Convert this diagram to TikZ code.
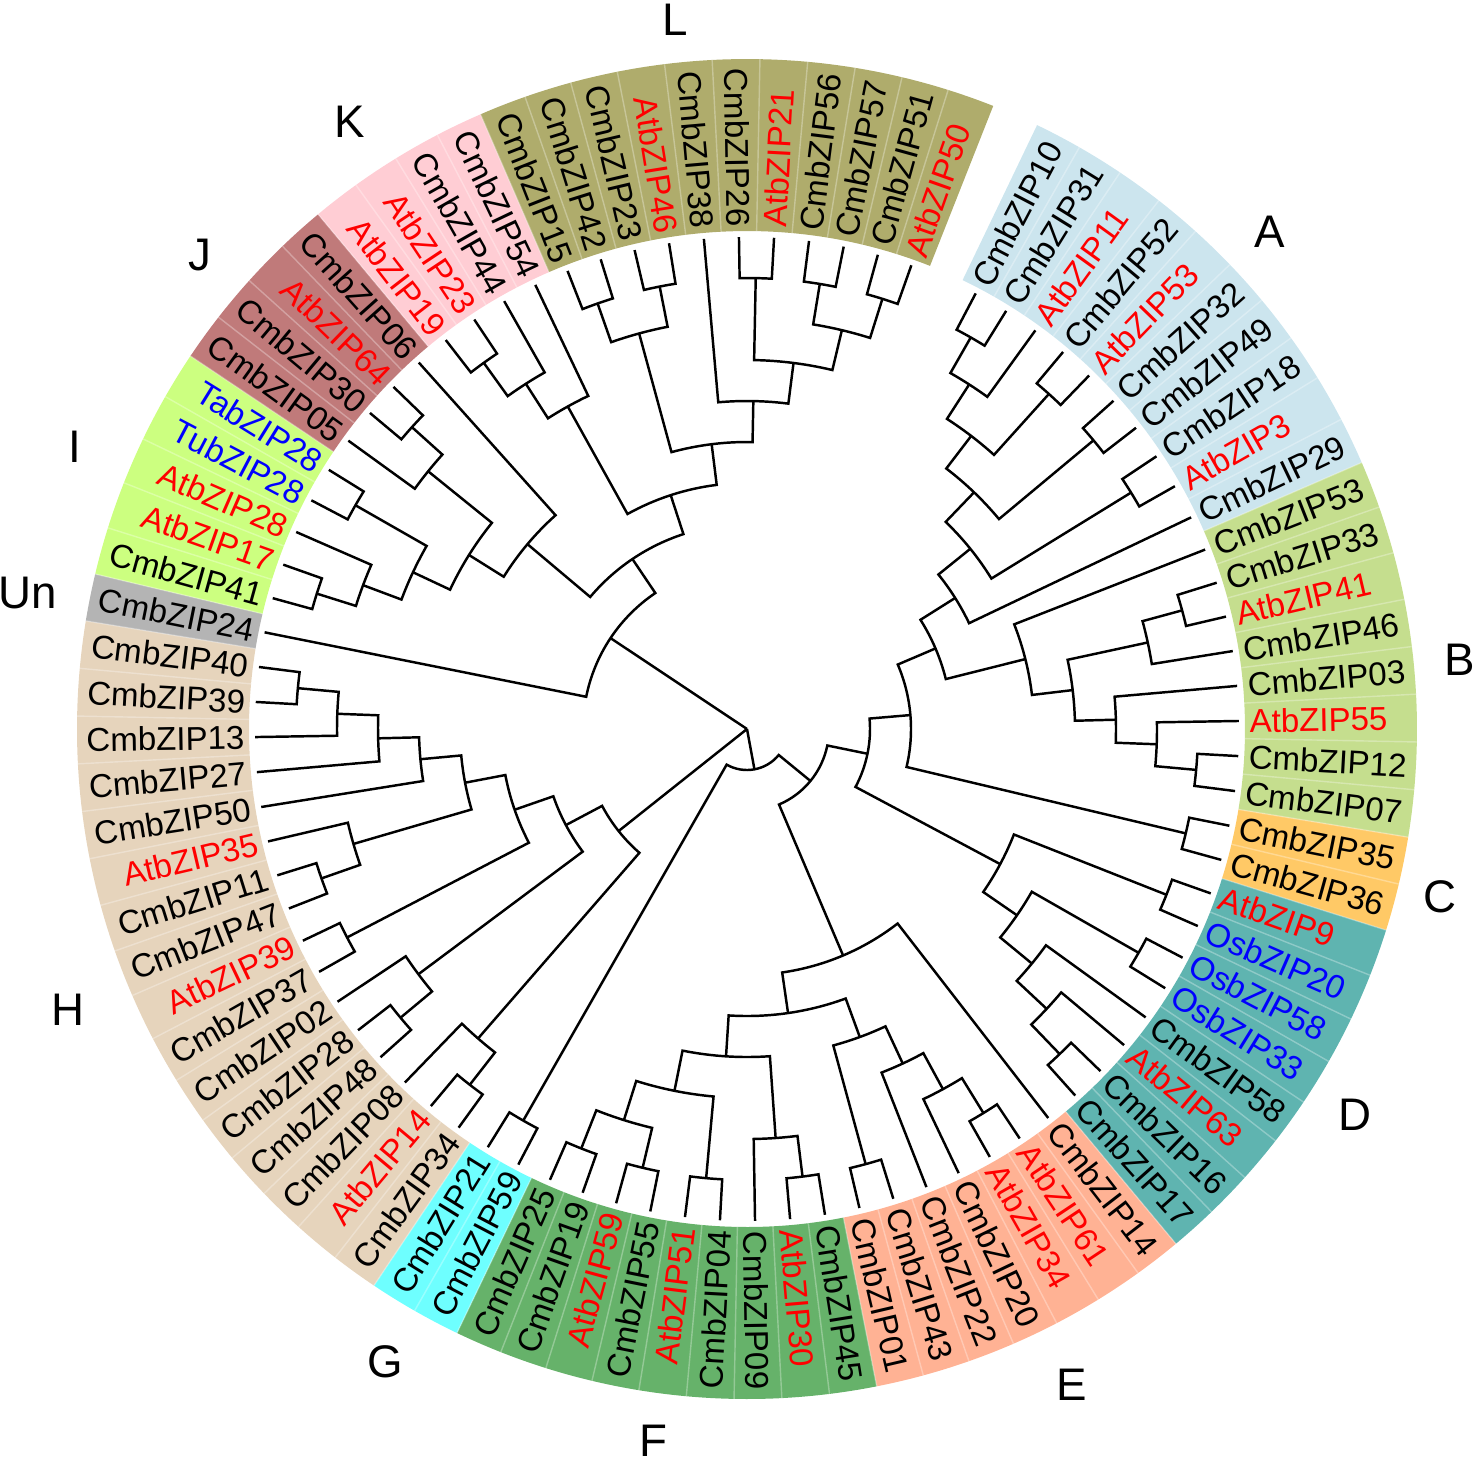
\documentclass[tikz,border=0pt]{standalone}
\usepackage{fontspec}
\setmainfont{Liberation Sans}

\definecolor{bandA}{RGB}{204,229,238}
\definecolor{bandB}{RGB}{197,222,142}
\definecolor{bandC}{RGB}{255,201,102}
\definecolor{bandD}{RGB}{95,180,176}
\definecolor{bandE}{RGB}{255,178,148}
\definecolor{bandF}{RGB}{102,178,106}
\definecolor{bandG}{RGB}{110,255,255}
\definecolor{bandH}{RGB}{230,212,188}
\definecolor{bandUn}{RGB}{180,180,180}
\definecolor{bandI}{RGB}{204,255,128}
\definecolor{bandJ}{RGB}{192,122,122}
\definecolor{bandK}{RGB}{255,205,212}
\definecolor{bandL}{RGB}{175,172,108}

% angle of leaf 0, angle between leaves, radius of one tree level
\newcommand{\firstang}{62.3}
\newcommand{\stepang}{4.0909}
\newcommand{\lvl}{0.41}

% clade: node level, first child pos, its level, last child pos, its level
\newcommand{\clade}[5]{%
  \draw[branch] ({\firstang-\stepang*(#2)}:{#3*\lvl}) -- ({\firstang-\stepang*(#2)}:{#1*\lvl})
    arc[start angle={\firstang-\stepang*(#2)}, end angle={\firstang-\stepang*(#4)}, radius={#1*\lvl}]
    -- ({\firstang-\stepang*(#4)}:{#5*\lvl});}
% coloured ring piece: colour, first leaf, last leaf
\newcommand{\band}[3]{%
  \fill[#1] ({\firstang-\stepang*(#2-0.5)}:4.98)
    arc[start angle={\firstang-\stepang*(#2-0.5)}, end angle={\firstang-\stepang*(#3+0.5)}, radius=4.98]
    -- ({\firstang-\stepang*(#3+0.5)}:6.70)
    arc[start angle={\firstang-\stepang*(#3+0.5)}, end angle={\firstang-\stepang*(#2-0.5)}, radius=6.70]
    -- cycle;}

\begin{document}
\begin{tikzpicture}[
  branch/.style={line width=0.7pt},
  seam/.style={white, opacity=0.3, line width=0.4pt},
  leaf/.style={inner sep=0pt, font=\fontsize{9.4}{11}\selectfont},
  clab/.style={inner sep=0pt, font=\fontsize{13}{15}\selectfont}]
\useasboundingbox (-7.47,-7.36) rectangle (7.29,7.29);

% The rings
\band{bandA}{0}{9}
\band{bandB}{10}{17}
\band{bandC}{18}{19}
\band{bandD}{20}{27}
\band{bandE}{28}{34}
\band{bandF}{35}{43}
\band{bandG}{44}{45}
\band{bandH}{46}{61}
\band{bandUn}{62}{62}
\band{bandI}{63}{67}
\band{bandJ}{68}{71}
\band{bandK}{72}{75}
\band{bandL}{76}{86}
\foreach \k in {0,...,85}
  \draw[seam] ({\firstang-\stepang*(\k+0.5)}:4.98) -- ({\firstang-\stepang*(\k+0.5)}:6.70);

% Leaf names
\foreach \nm/\tcol [count=\i from 0] in {
  CmbZIP10/black, CmbZIP31/black, AtbZIP11/red, CmbZIP52/black, AtbZIP53/red,
  CmbZIP32/black, CmbZIP49/black, CmbZIP18/black, AtbZIP3/red, CmbZIP29/black,
  CmbZIP53/black, CmbZIP33/black, AtbZIP41/red, CmbZIP46/black, CmbZIP03/black,
  AtbZIP55/red, CmbZIP12/black, CmbZIP07/black,
  CmbZIP35/black, CmbZIP36/black,
  AtbZIP9/red, OsbZIP20/blue, OsbZIP58/blue, OsbZIP33/blue, CmbZIP58/black,
  AtbZIP63/red, CmbZIP16/black, CmbZIP17/black,
  CmbZIP14/black, AtbZIP61/red, AtbZIP34/red, CmbZIP20/black, CmbZIP22/black,
  CmbZIP43/black, CmbZIP01/black,
  CmbZIP45/black, AtbZIP30/red, CmbZIP09/black, CmbZIP04/black, AtbZIP51/red,
  CmbZIP55/black, AtbZIP59/red, CmbZIP19/black, CmbZIP25/black,
  CmbZIP59/black, CmbZIP21/black,
  CmbZIP34/black, AtbZIP14/red, CmbZIP08/black, CmbZIP48/black, CmbZIP28/black,
  CmbZIP02/black, CmbZIP37/black, AtbZIP39/red, CmbZIP47/black, CmbZIP11/black,
  AtbZIP35/red, CmbZIP50/black, CmbZIP27/black, CmbZIP13/black, CmbZIP39/black,
  CmbZIP40/black,
  CmbZIP24/black,
  CmbZIP41/black, AtbZIP17/red, AtbZIP28/red, TubZIP28/blue, TabZIP28/blue,
  CmbZIP05/black, CmbZIP30/black, AtbZIP64/red, CmbZIP06/black,
  AtbZIP19/red, AtbZIP23/red, CmbZIP44/black, CmbZIP54/black,
  CmbZIP15/black, CmbZIP42/black, CmbZIP23/black, AtbZIP46/red, CmbZIP38/black,
  CmbZIP26/black, AtbZIP21/red, CmbZIP56/black, CmbZIP57/black, CmbZIP51/black,
  AtbZIP50/red}{
  \pgfmathsetmacro{\leafang}{\firstang-\stepang*\i}
  \pgfmathtruncatemacro{\flip}{cos(\leafang)<0}
  \ifnum\flip=1
    \node[leaf, text=\tcol, rotate=\leafang+180, anchor=east] (leaf\i) at (\leafang:5.02) {\nm};
  \else
    \node[leaf, text=\tcol, rotate=\leafang, anchor=west] (leaf\i) at (\leafang:5.02) {\nm};
  \fi
}

% Group letters
\node[clab] (grpA) at (5.23,4.97) {A};
\node[clab] (grpB) at (7.13,0.69) {B};
\node[clab] (grpC) at (6.93,-1.68) {C};
\node[clab] (grpD) at (6.08,-3.86) {D};
\node[clab] (grpE) at (3.25,-6.56) {E};
\node[clab] (grpF) at (-0.94,-7.12) {F};
\node[clab] (grpG) at (-3.62,-6.33) {G};
\node[clab] (grpH) at (-6.79,-2.81) {H};
\node[clab] (grpUn) at (-7.19,1.36) {Un};
\node[clab] (grpI) at (-6.72,2.82) {I};
\node[clab] (grpJ) at (-5.47,4.74) {J};
\node[clab] (grpK) at (-3.97,6.07) {K};
\node[clab] (grpL) at (-0.72,7.09) {L};

% The tree
% A
\clade{11}{0}{12}{1}{12}
\clade{10}{0.5}{11}{2}{12}
\clade{11}{3}{12}{4}{12}
\clade{9}{1.25}{10}{3.5}{11}
\clade{11}{5}{12}{6}{12}
\clade{8}{2.375}{9}{5.5}{11}
\clade{11}{7}{12}{8}{12}
\clade{7}{3.9375}{8}{7.5}{11}
\clade{6}{5.71875}{7}{9}{12}
% B
\clade{11}{11}{12}{12}{12}
\clade{10}{11.5}{11}{13}{12}
\clade{11}{16}{12}{17}{12}
\clade{10}{15}{12}{16.5}{11}
\clade{9}{14}{12}{15.75}{10}
\clade{8}{12.25}{10}{14.875}{9}
\clade{7}{10}{12}{13.5625}{8}
\clade{5}{7.359375}{6}{11.78125}{7}
% C
\clade{11}{18}{12}{19}{12}
\clade{4}{9.5703125}{5}{18.5}{11}
% D
\clade{11}{20}{12}{21}{12}
\clade{11}{22}{12}{23}{12}
\clade{11}{26}{12}{27}{12}
\clade{10}{25}{12}{26.5}{11}
\clade{9}{24}{12}{25.75}{10}
\clade{8}{22.5}{11}{24.875}{9}
\clade{7}{20.5}{11}{23.6875}{8}
\clade{3}{14.03515625}{4}{22.09375}{7}
% E
\clade{11}{29}{12}{30}{12}
\clade{10}{29.5}{11}{31}{12}
\clade{9}{30.25}{10}{32}{12}
\clade{11}{33}{12}{34}{12}
\clade{8}{31.125}{9}{33.5}{11}
% F
\clade{11}{35}{12}{36}{12}
\clade{10}{35.5}{11}{37}{12}
\clade{11}{38}{12}{39}{12}
\clade{11}{40}{12}{41}{12}
\clade{11}{42}{12}{43}{12}
\clade{10}{40.5}{11}{42.5}{11}
\clade{9}{38.5}{11}{41.5}{10}
\clade{8}{36.25}{10}{40}{9}
\clade{7}{32.3125}{8}{38.125}{8}
\clade{6}{28}{12}{35.21875}{7}
\clade{2}{18.064453125}{3}{31.609375}{6}
% G
\clade{11}{44}{12}{45}{12}
\clade{1}{24.8369140625}{2}{44.5}{11}
% H
\clade{11}{46}{12}{47}{12}
\clade{10}{46.5}{11}{48}{12}
\clade{11}{49}{12}{50}{12}
\clade{10}{49.5}{11}{51}{12}
\clade{11}{52}{12}{53}{12}
\clade{11}{54}{12}{55}{12}
\clade{10}{54.5}{11}{56}{12}
\clade{11}{60}{12}{61}{12}
\clade{10}{59}{12}{60.5}{11}
\clade{9}{58}{12}{59.75}{10}
\clade{8}{57}{12}{58.875}{9}
\clade{7}{55.25}{10}{57.9375}{8}
\clade{6}{52.5}{11}{56.59375}{7}
\clade{5}{50.25}{10}{54.546875}{6}
\clade{4}{47.25}{10}{52.3984375}{5}
% I and J
\clade{11}{63}{12}{64}{12}
\clade{10}{63.5}{11}{65}{12}
\clade{11}{66}{12}{67}{12}
\clade{9}{64.25}{10}{66.5}{11}
\clade{11}{69}{12}{70}{12}
\clade{10}{68}{12}{69.5}{11}
\clade{8}{65.375}{9}{68.75}{10}
\clade{7}{67.0625}{8}{71}{12}
% K
\clade{11}{72}{12}{73}{12}
\clade{10}{72.5}{11}{74}{12}
\clade{9}{73.25}{10}{75}{12}
% L
\clade{11}{76}{12}{77}{12}
\clade{11}{78}{12}{79}{12}
\clade{10}{76.5}{11}{78.5}{11}
\clade{11}{81}{12}{82}{12}
\clade{11}{83}{12}{84}{12}
\clade{11}{85}{12}{86}{12}
\clade{10}{83.5}{11}{85.5}{11}
\clade{9}{81.5}{11}{84.5}{10}
\clade{8}{80}{12}{83}{9}
\clade{7}{77.5}{10}{81.5}{8}
\clade{6}{74.125}{9}{79.5}{7}
\clade{5}{69.03125}{7}{76.8125}{6}
\clade{4}{62}{12}{72.921875}{5}
% root
\coordinate (root) at (0,0);
\draw[branch] (root) -- ({\firstang-\stepang*67.4609375}:{4*\lvl});
\draw[branch] (root) -- ({\firstang-\stepang*49.82421875}:{4*\lvl});
\draw[branch] (root) -- ({\firstang-\stepang*34.66845703125}:{1*\lvl});

\end{tikzpicture}
\end{document}
